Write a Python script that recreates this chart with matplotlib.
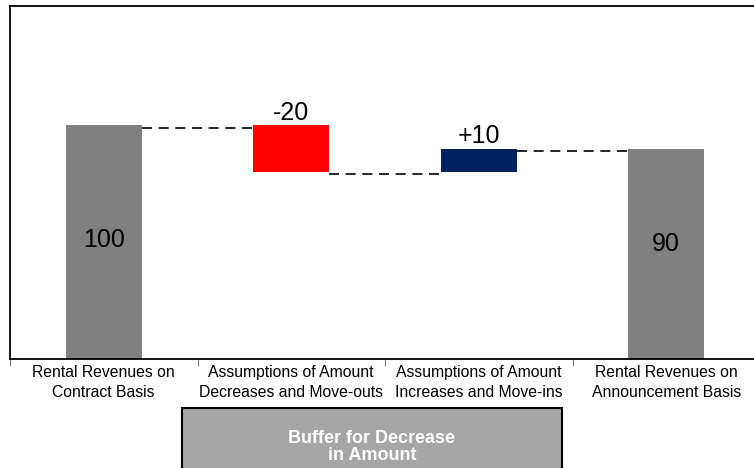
import matplotlib
matplotlib.use("Agg")
import matplotlib.pyplot as plt
from matplotlib.patches import Rectangle

plt.rcParams['font.family'] = ['Liberation Sans', 'DejaVu Sans']

# 数据
categories = ["Rental Revenues on\nContract Basis",
              "Assumptions of Amount\nDecreases and Move-outs",
              "Assumptions of Amount\nIncreases and Move-ins",
              "Rental Revenues on\nAnnouncement Basis"]
changes = [100, -20, 10]
final_value = 90
bar_colors = ["#808080", "#ff0000", "#002060", "#808080"]
buffer_text = "Buffer for Decrease\nin Amount"

# 瀑布图的底和高
bottoms = []
heights = []
ends = []
level = 0
for i, c in enumerate(changes):
    if i == 0:
        bottoms.append(0)
        heights.append(c)
        level = c
    else:
        bottoms.append(min(level, level + c))
        heights.append(abs(c))
        level += c
    ends.append(level)
bottoms.append(0)
heights.append(final_value)
ends.append(final_value)

fig = plt.figure(figsize=(7.54, 4.68), dpi=100)
ax = fig.add_axes([10 / 754, 109 / 468, 750 / 754, 353 / 468])

x = list(range(len(categories)))
w = 0.405
ax.bar(x, heights, bottom=bottoms, width=w, color=bar_colors, zorder=2)

# 连接虚线
for i in range(len(x) - 1):
    ax.plot([x[i] + w / 2, x[i + 1] - w / 2], [ends[i] - 1, ends[i] - 1],
            color="black", linestyle=(0, (6, 4)), linewidth=1.2, zorder=1)

# 数值标签
ax.text(x[0], 51, "100", ha="center", va="center", fontsize=18)
ax.text(x[3], 49, "90", ha="center", va="center", fontsize=18)
ax.text(x[1], 100.3, "-20", ha="center", va="bottom", fontsize=18)
ax.text(x[2], 90.3, "+10", ha="center", va="bottom", fontsize=18)

ax.set_xlim(-0.5, 3.5)
ax.set_ylim(0, 151)
ax.set_yticks([])
ax.set_xticks([-0.5, 0.5, 1.5, 2.5, 3.5])
ax.set_xticklabels([])
ax.tick_params(axis="x", length=5, width=0.8, color="#808080", direction="out")
for i, lab in enumerate(categories):
    ax.text(x[i], -2.5, lab, ha="center", va="top", fontsize=11.3, linespacing=1.4)
for s in ax.spines.values():
    s.set_linewidth(1.3)

# 下方方框
fig.patches.append(Rectangle((182 / 754, -0.01), 380 / 754, 65 / 468, transform=fig.transFigure,
                             facecolor="#a6a6a6", edgecolor="black", linewidth=1.5))
fig.text(372 / 754, 21 / 468, buffer_text, ha="center", va="center", color="white",
         fontsize=13, fontweight="bold", linespacing=1.0)

fig.savefig("out.png", dpi=100)
